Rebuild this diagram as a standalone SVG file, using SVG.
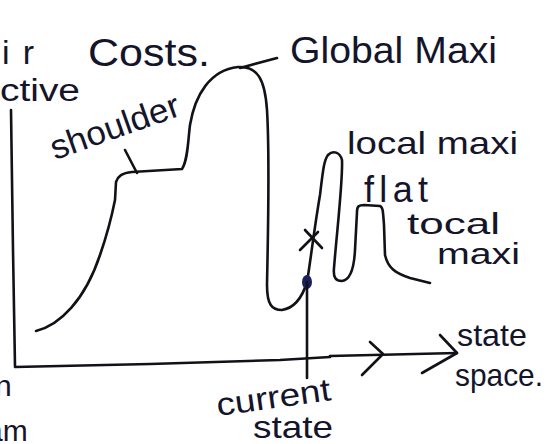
<svg xmlns="http://www.w3.org/2000/svg" width="560" height="444" viewBox="0 0 560 444">
<style>
.ink{fill:none;stroke:#111118;stroke-width:2.6;stroke-linecap:round;stroke-linejoin:round}
.lbl{font-family:"Liberation Sans","DejaVu Sans",sans-serif;fill:#14142a}
</style>
<rect width="560" height="444" fill="#ffffff"/>
<g id="axes">
<path class="ink" d="M11,110 L13,250 L15,366"/>
<path class="ink" d="M15,367 L150,364 L280,360 L330,357"/>
<path class="ink" d="M330,356 L457,353"/>
<path class="ink" d="M370,342 L383,354 L362,375"/>
<path class="ink" d="M440,335 L457,353 L422,373"/>
</g>
<g id="landscape">
<path class="ink" d="M36,331 C60,325 85,300 100,255 C108,232 112,215 115,200 L116,182 C118,176 122,173 132,172 L182,169 C188,160 188,140 190,125 C195,95 210,70 238,67 C258,66 265,80 267,110 C270,160 268,230 267,285 C267,305 272,310 282,310 C295,308 303,295 307,282 C310,265 314,230 320,195 C323,170 324,160 328,155 C333,150 340,152 342,160 C343,180 337,230 334,268 C333,278 336,281 342,281 C350,280 354,270 355,250 L357,212 C357,206 359,205 364,205 L380,206 C383,207 383,212 384,225 L385,255 C388,268 395,273 410,278 L430,283"/>
</g>
<g id="current-state-marker">
<path class="ink" d="M305,230 L322,248 M300,250 L318,232"/>
<ellipse cx="307" cy="282" rx="5" ry="7" fill="#1b1f5a"/>
<path class="ink" d="M307,282 L307,378"/>
</g>
<g id="connectors">
<path class="ink" d="M125,150 L137,173"/>
<path class="ink" d="M240,68 L277,58"/>
</g>
<g id="labels">
<text class="lbl" x="2" y="64" font-size="34" textLength="32">ir</text>
<text class="lbl" x="0" y="101" font-size="31" textLength="80" lengthAdjust="spacingAndGlyphs">ctive</text>
<text class="lbl" x="88" y="66" font-size="38" textLength="122" lengthAdjust="spacingAndGlyphs">Costs.</text>
<text class="lbl" x="55" y="160" font-size="34" textLength="135" lengthAdjust="spacingAndGlyphs" transform="rotate(-19.5 55 160)">shoulder</text>
<text class="lbl" x="290" y="63" font-size="36" textLength="207" lengthAdjust="spacingAndGlyphs">Global Maxi</text>
<text class="lbl" x="347" y="154" font-size="32" textLength="171" lengthAdjust="spacingAndGlyphs">local maxi</text>
<text class="lbl" x="364" y="202" font-size="36" textLength="64">flat</text>
<text class="lbl" x="407" y="234" font-size="29" textLength="93" lengthAdjust="spacingAndGlyphs">tocal</text>
<text class="lbl" x="437" y="264" font-size="29" textLength="83" lengthAdjust="spacingAndGlyphs">maxi</text>
<text class="lbl" x="457" y="346" font-size="32" textLength="70" lengthAdjust="spacingAndGlyphs">state</text>
<text class="lbl" x="455" y="386" font-size="32" textLength="88" lengthAdjust="spacingAndGlyphs">space.</text>
<text class="lbl" x="218" y="416" font-size="32" textLength="115" lengthAdjust="spacingAndGlyphs" transform="rotate(-8 218 416)">current</text>
<text class="lbl" x="253" y="438" font-size="32" textLength="80" lengthAdjust="spacingAndGlyphs">state</text>
<text class="lbl" x="-5" y="396" font-size="30">n</text>
<text class="lbl" x="-14" y="441" font-size="30">am</text>
</g>
</svg>
